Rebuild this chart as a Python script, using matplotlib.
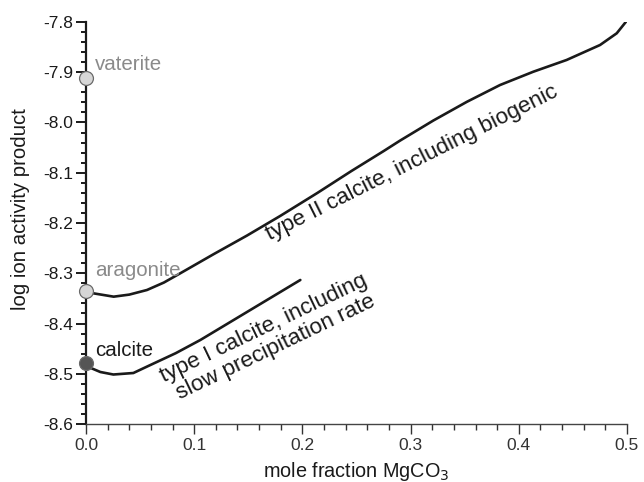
"""Solubility of Mg-calcites: log IAP vs mole fraction MgCO3."""

import matplotlib
matplotlib.use("Agg")
import matplotlib.pyplot as plt
from matplotlib.ticker import MultipleLocator

plt.rcParams["font.family"] = ["Liberation Sans", "DejaVu Sans"]
plt.rcParams["axes.unicode_minus"] = False

# %% data
# type II calcite, including biogenic
x_type2 = [0.0, 0.007, 0.0256, 0.04, 0.0564, 0.072, 0.0872, 0.118, 0.1488,
           0.1795, 0.214, 0.245, 0.275, 0.2903, 0.3211, 0.3519, 0.3827,
           0.4134, 0.4442, 0.4751, 0.4905, 0.5]
y_type2 = [-8.335, -8.340, -8.3466, -8.3425, -8.3333, -8.3185, -8.300, -8.262,
           -8.225, -8.186, -8.140, -8.097, -8.057, -8.036, -7.996, -7.959,
           -7.9254, -7.899, -7.8756, -7.8458, -7.8225, -7.797]

# type I calcite, including slow precipitation rate
x_type1 = [0.0, 0.005, 0.0133, 0.0253, 0.0438, 0.0595, 0.083, 0.1057,
           0.1519, 0.1981]
y_type1 = [-8.479, -8.489, -8.4965, -8.5015, -8.4985, -8.4826, -8.459, -8.4328,
           -8.3731, -8.3134]

# pure CaCO3 polymorphs at x = 0
minerals = ["vaterite", "aragonite", "calcite"]
mineral_logiap = [-7.911, -8.335, -8.479]
mineral_fill = ["#d6d6d6", "#d6d6d6", "#555555"]
mineral_text = ["#8a8a8a", "#8a8a8a", "#1a1a1a"]
label_rise = [9.5, 15.0, 9.5]  # points above the marker

# %% figure
fig = plt.figure(figsize=(6.44, 4.82), dpi=100)
ax = fig.add_axes([0.1335, 0.1203, 0.8401, 0.8341])

ax.plot(x_type2, y_type2, color="#1a1a1a", lw=1.9, solid_capstyle="round",
        solid_joinstyle="round")
ax.plot(x_type1, y_type1, color="#1a1a1a", lw=1.9, solid_capstyle="round",
        solid_joinstyle="round")

for name, val, fc, tc, dy in zip(minerals, mineral_logiap, mineral_fill,
                                 mineral_text, label_rise):
    ax.plot([0.0], [val], "o", ms=10, mfc=fc, mec="#6a6a6a", mew=0.9,
            clip_on=False, zorder=5)
    ax.annotate(name, (0.0, val), xytext=(6.5, dy), textcoords="offset points",
                fontsize=14.8, color=tc, ha="left", va="center")

ax.text(0.170, -8.234, "type II calcite, including biogenic", fontsize=16.2,
        rotation=26.6, rotation_mode="anchor", ha="left", va="baseline",
        color="#1a1a1a")
ax.text(0.0716, -8.518, "type I calcite, including", fontsize=16.2,
        rotation=25.6, rotation_mode="anchor", ha="left", va="baseline",
        color="#1a1a1a")
ax.text(0.087, -8.552, "slow precipitation rate", fontsize=16.2,
        rotation=25.6, rotation_mode="anchor", ha="left", va="baseline",
        color="#1a1a1a")

ax.set_xlim(0, 0.5)
ax.set_ylim(-8.6, -7.8)
ax.xaxis.set_major_locator(MultipleLocator(0.1))
ax.xaxis.set_minor_locator(MultipleLocator(0.02))
ax.yaxis.set_major_locator(MultipleLocator(0.1))
ax.yaxis.set_minor_locator(MultipleLocator(0.02))
ax.xaxis.set_major_formatter(plt.FormatStrFormatter("%.1f"))
ax.yaxis.set_major_formatter(plt.FormatStrFormatter("%.1f"))

for s in ("top", "right"):
    ax.spines[s].set_visible(False)
ax.spines["left"].set_linewidth(1.6)
ax.spines["left"].set_color("#1a1a1a")
ax.spines["bottom"].set_linewidth(1.0)
ax.spines["bottom"].set_color("#444444")

ax.tick_params(axis="y", which="major", length=7, width=1.4, labelsize=12.5,
               colors="#1a1a1a", pad=2)
ax.tick_params(axis="y", which="minor", length=3.5, width=1.4, colors="#1a1a1a")
ax.tick_params(axis="x", which="major", length=7, width=1.0, labelsize=12.5,
               colors="#333333", pad=3)
ax.tick_params(axis="x", which="minor", length=4.5, width=1.0, colors="#333333")

ax.set_xlabel("mole fraction MgCO$_3$", fontsize=14.3, color="#1a1a1a", labelpad=5)
ax.set_ylabel("log ion activity product", fontsize=14.7, color="#1a1a1a")
ax.yaxis.set_label_coords(-0.103, 0.535)

fig.savefig("out.png", dpi=100)
